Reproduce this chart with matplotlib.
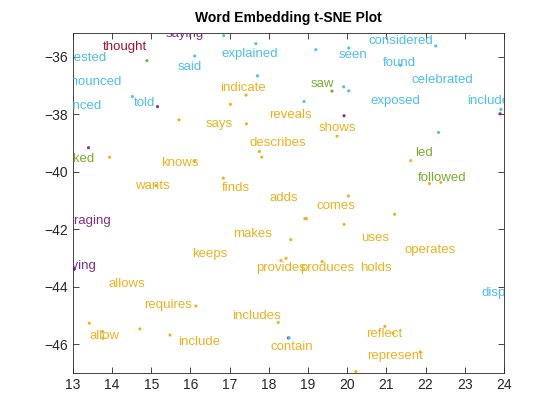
import numpy as np
import matplotlib
matplotlib.use("Agg")
import matplotlib.pyplot as plt
import matplotlib.transforms as mtransforms

plt.rcParams['font.family'] = ['Liberation Sans', 'DejaVu Sans']

# MATLAB default colours
blue = '#4DBEEE'
orange = '#EDB120'
green = '#77AC30'
purple = '#7E2F8E'
red = '#A2142F'

# labelled words
words = ['saying', 'thought', 'suggested', 'announced', 'advanced', 'said', 'told',
         'explained', 'indicate', 'says', 'seen', 'considered', 'found', 'celebrated',
         'exposed', 'include', 'saw', 'reveals', 'shows', 'describes', 'led',
         'followed', 'asked', 'knows', 'wants', 'finds', 'adds', 'comes',
         'encouraging', 'makes', 'uses', 'operates', 'keeps', 'playing', 'provides',
         'produces', 'holds', 'allows', 'displays', 'requires', 'includes', 'allow',
         'include', 'reflect', 'contain', 'represent']
word_x = [15.86, 14.33, 13.08, 13.43, 13.00, 15.99, 14.84,
          17.52, 17.34, 16.73, 20.15, 21.37, 21.32, 22.44,
          21.23, 23.59, 19.38, 18.56, 19.74, 18.23, 21.97,
          22.42, 13.10, 15.72, 15.02, 17.16, 18.39, 19.71,
          13.06, 17.59, 20.70, 22.12, 16.50, 13.05, 18.31,
          19.48, 20.73, 14.38, 24.03, 15.44, 17.69, 13.81,
          16.23, 20.94, 18.59, 21.22]
word_y = [-35.12, -35.57, -35.98, -36.79, -37.63, -36.29, -37.55,
          -35.83, -37.03, -38.25, -35.85, -35.36, -36.15, -36.72,
          -37.45, -37.45, -36.87, -37.94, -38.42, -38.94, -39.26,
          -40.15, -39.49, -39.64, -40.42, -40.48, -40.83, -41.12,
          -41.64, -42.08, -42.22, -42.65, -42.78, -43.21, -43.27,
          -43.27, -43.27, -43.85, -44.16, -44.58, -44.95, -45.65,
          -45.85, -45.57, -46.03, -46.35]
word_c = ['p', 'r', 'b', 'b', 'b', 'b', 'b',
          'b', 'o', 'o', 'b', 'b', 'b', 'b',
          'b', 'b', 'g', 'o', 'o', 'o', 'g',
          'g', 'g', 'o', 'o', 'o', 'o', 'o',
          'p', 'o', 'o', 'o', 'o', 'p', 'o',
          'o', 'o', 'o', 'b', 'o', 'o', 'o',
          'o', 'o', 'o', 'o']

# unlabelled points
dot_x = [16.85, 14.89, 16.11, 14.52, 15.16, 17.02, 15.71, 13.40, 17.67, 19.20,
         20.04, 17.71, 17.42, 19.61, 19.91, 20.04, 18.90, 19.92, 17.43, 19.74,
         22.26, 21.36, 23.92, 23.90, 22.33, 21.62, 22.10, 22.39, 21.21, 13.94,
         16.11, 15.12, 16.84, 17.76, 17.82, 20.03, 18.92, 18.96, 19.92, 18.56,
         18.31, 18.44, 19.36, 13.04, 16.14, 13.42, 13.76, 13.77, 14.71, 15.48,
         18.24, 18.50, 18.52, 20.96, 21.17, 21.86, 20.22]
dot_y = [-35.26, -36.13, -35.97, -37.38, -37.73, -37.65, -38.19, -39.16, -35.54, -35.75,
         -35.69, -36.66, -37.33, -37.19, -37.04, -37.18, -37.55, -38.05, -38.33, -38.76,
         -35.62, -36.29, -37.83, -37.98, -38.63, -39.61, -40.41, -40.37, -41.48, -39.49,
         -39.64, -40.48, -40.22, -39.29, -39.49, -40.84, -41.63, -41.63, -41.83, -42.36,
         -43.09, -43.01, -43.12, -43.38, -44.67, -45.27, -45.56, -45.79, -45.47, -45.68,
         -45.24, -45.78, -45.78, -45.38, -45.62, -46.27, -46.95]
dot_c = ['b', 'g', 'b', 'b', 'p', 'o', 'o', 'p', 'b', 'b',
         'b', 'b', 'o', 'g', 'b', 'b', 'b', 'p', 'o', 'o',
         'b', 'b', 'b', 'p', 'b', 'o', 'o', 'o', 'o', 'o',
         'o', 'o', 'o', 'o', 'o', 'o', 'o', 'o', 'o', 'o',
         'o', 'o', 'o', 'p', 'o', 'o', 'o', 'o', 'o', 'o',
         'o', 'p', 'b', 'o', 'o', 'o', 'o']

cmap = {'b': blue, 'o': orange, 'g': green, 'p': purple, 'r': red}

fig = plt.figure(figsize=(5.6, 4.2), dpi=100)
ax = fig.add_axes([0.130, 0.112, 0.770, 0.810])

ax.scatter(dot_x, dot_y, s=5, c=[cmap[k] for k in dot_c], linewidths=0, zorder=2)
# nudge text down a bit so the glyphs sit centred like MATLAB's
tr = mtransforms.offset_copy(ax.transData, fig=fig, y=-2, units='dots')
for w, x, y, k in zip(words, word_x, word_y, word_c):
    ax.text(x, y, w, color=cmap[k], fontsize=9.5, ha='center', va='center',
            clip_on=True, zorder=3, transform=tr)

ax.set_xlim(13, 24)
ax.set_ylim(-47, -35.16)
ax.set_xticks(np.arange(13, 25, 1))
ax.set_yticks(np.arange(-46, -35, 2))
ax.tick_params(direction='in', top=True, right=True, length=4, width=0.6,
               labelsize=10, colors='#262626')
for s in ax.spines.values():
    s.set_linewidth(0.6)
    s.set_color('#262626')
ax.set_title('Word Embedding t-SNE Plot', fontsize=10, fontweight='bold', pad=8)

fig.savefig('out.png', dpi=100)
